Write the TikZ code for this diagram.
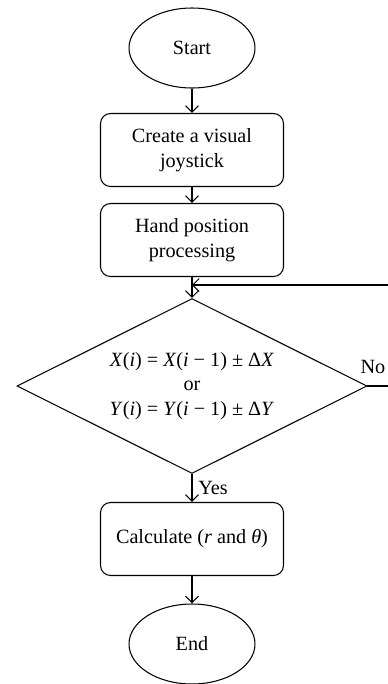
\documentclass[tikz,border=0pt]{standalone}
\usepackage{fontspec}
\setmainfont{Liberation Serif}
\usetikzlibrary{shapes.geometric,arrows.meta}
\begin{document}
\begin{tikzpicture}[x=0.02cm,y=-0.02cm,>={Straight Barb[length=1.3mm,width=2.6mm]},
    every node/.style={font=\fontsize{11.5}{14}\selectfont},
    term/.style={draw,ellipse,line width=0.6pt,minimum width=2.52cm,minimum height=1.6cm,inner sep=0pt},
    proc/.style={draw,rounded corners=0.2cm,line width=0.6pt,minimum width=3.66cm,minimum height=1.46cm,align=center,inner sep=0pt},
    decide/.style={draw,diamond,line width=0.6pt,minimum width=7cm,minimum height=3.5cm,aspect=2,align=center,inner sep=0pt},
    flow/.style={->,line width=0.6pt}]
\useasboundingbox (0,0) rectangle (387,684);

\node[term] (start) at (192,48) {Start};
\node[proc] (joy) at (192,150) {Create a visual\\joystick};
\node[proc] (hand) at (192,240) {Hand position\\processing};
\node[decide] (check) at (192,386) {\textit{X}(\textit{i}) = \textit{X}(\textit{i} − 1) ± Δ\textit{X}\\or\\\textit{Y}(\textit{i}) = \textit{Y}(\textit{i} − 1) ± Δ\textit{Y}};
\node[proc] (calc) at (192,539) {Calculate (\textit{r} and \textit{θ})};
\node[term] (end) at (192,644) {End};
\coordinate (join) at (192,285);

\draw[flow](start)--(joy);
\draw[flow](joy)--(hand);
\draw[flow](hand)--(check);
\draw[flow](check)--node[right]{Yes}(calc);
\draw[flow](calc)--(end);
\draw[flow](check.east)--++(40,0)|-(join);

\node at (373,367) (no) {No};
\end{tikzpicture}
\end{document}
